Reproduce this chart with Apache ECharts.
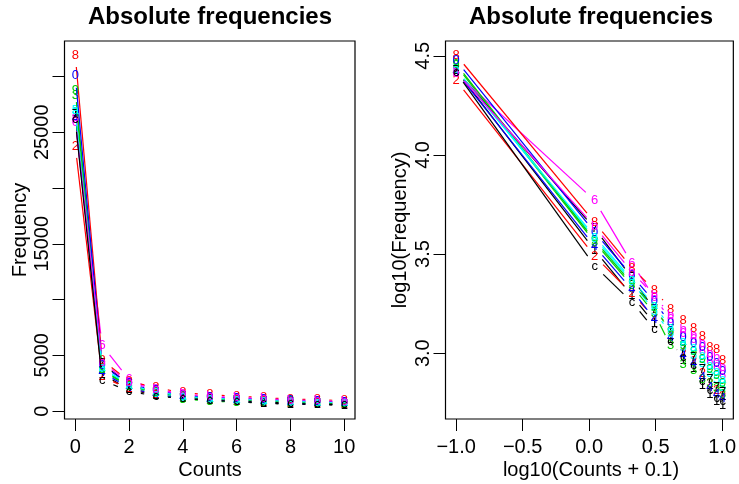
<!DOCTYPE html>
<html>
<head>
<meta charset="utf-8">
<script src="https://cdn.jsdelivr.net/npm/echarts@6/dist/echarts.min.js"></script>
<style>
html,body{margin:0;padding:0;background:#fff;}
#chart{width:739px;height:484px;}
</style>
</head>
<body>
<div id="chart"></div>
<script>
// Counts (x values)
const counts = [0, 1, 2, 3, 4, 5, 6, 7, 8, 9, 10];
// Frequencies per column (plotting character in name)
const s1 = [26810, 3311, 1950, 1413, 1175, 923, 841, 690, 622, 568, 548];
const s2 = [23770, 3090, 1995, 1514, 1230, 1000, 912, 794, 708, 646, 603];
const s3 = [28310, 3631, 2188, 1585, 1089, 881, 815, 741, 708, 661, 617];
const s4 = [26240, 3467, 2089, 1479, 1202, 977, 891, 759, 676, 617, 589];
const s5 = [26980, 3802, 2291, 1622, 1259, 1072, 977, 891, 794, 741, 676];
const s6 = [25880, 5888, 2838, 1905, 1479, 1259, 1175, 1023, 912, 851, 776];
const s7 = [26610, 4266, 2399, 1660, 1318, 1047, 955, 832, 741, 676, 631];
const s8 = [31920, 4571, 2692, 2084, 1667, 1455, 1337, 1213, 1069, 1047, 916];
const s9 = [28770, 3715, 2239, 1698, 1288, 1096, 1023, 933, 832, 776, 708];
const s0 = [30060, 4074, 2455, 1820, 1413, 1202, 1122, 1072, 955, 891, 813];
const sa = [26920, 3890, 2344, 1738, 1349, 1148, 1072, 977, 871, 813, 741];
const sb = [26180, 4365, 2570, 1950, 1549, 1318, 1230, 1122, 1000, 955, 851];
const sc = [26120, 2754, 1807, 1321, 1148, 955, 871, 724, 646, 589, 569];
const seriesList = [s1, s2, s3, s4, s5, s6, s7, s8, s9, s0, sa, sb, sc];
const pchChars = ['1', '2', '3', '4', '5', '6', '7', '8', '9', '0', 'a', 'b', 'c'];
const palette = ['#000000', '#FF0000', '#00CD00', '#0000FF', '#00FFFF', '#FF00FF'];

// Tick values / labels
const leftXTicks = [0, 2, 4, 6, 8, 10];
const leftYTicks = [0, 5000, 10000, 15000, 20000, 25000, 30000];
const leftYLabels = [0, 5000, 15000, 25000];
const rightXTicks = [-1.0, -0.5, 0.0, 0.5, 1.0];
const rightYTicks = [3.0, 3.5, 4.0, 4.5];

const titleText = 'Absolute frequencies';
const leftXName = 'Counts', leftYName = 'Frequency';
const rightXName = 'log10(Counts + 0.1)', rightYName = 'log10(Frequency)';

const logX = counts.map(c => Math.log10(c + 0.1));
const logSeries = seriesList.map(s => s.map(v => Math.log10(v)));

function rRange(arrs) {
  let lo = Infinity, hi = -Infinity;
  arrs.forEach(a => a.forEach(v => { if (v < lo) lo = v; if (v > hi) hi = v; }));
  const d = hi - lo;
  return [lo - 0.04 * d, hi + 0.04 * d];
}
const lxr = rRange([counts]);
const lyr = rRange(seriesList);
const rxr = rRange([logX]);
const ryr = rRange(logSeries);

const GAP = 12;
const FONT = '"Liberation Sans", Arial, Helvetica, sans-serif';

function makeSeries(panel, xs, ys, idx) {
  const color = palette[idx % 6];
  const ch = pchChars[idx];
  return {
    type: 'custom',
    coordinateSystem: 'cartesian2d',
    xAxisIndex: panel, yAxisIndex: panel,
    data: xs.map((x, i) => [x, ys[i]]),
    z: 2 + idx,
    silent: true,
    animation: false,
    clip: false,
    renderItem: function (params, api) {
      const i = params.dataIndex;
      const p0 = api.coord([api.value(0), api.value(1)]);
      const children = [];
      if (i < xs.length - 1) {
        const p1 = api.coord([xs[i + 1], ys[i + 1]]);
        const dx = p1[0] - p0[0], dy = p1[1] - p0[1];
        const len = Math.hypot(dx, dy);
        const f = GAP / len;
        if (f < 0.5) {
          children.push({
            type: 'line',
            shape: { x1: p0[0] + f * dx, y1: p0[1] + f * dy, x2: p1[0] - f * dx, y2: p1[1] - f * dy },
            style: { stroke: color, lineWidth: 1.2 }
          });
        }
      }
      children.push({
        type: 'text', x: p0[0], y: p0[1],
        style: { text: ch, fill: color, font: '13px ' + FONT, align: 'center', verticalAlign: 'middle' }
      });
      return { type: 'group', children: children };
    }
  };
}

const series = [];
seriesList.forEach((s, k) => series.push(makeSeries(0, counts, s, k)));
logSeries.forEach((s, k) => series.push(makeSeries(1, logX, s, k)));

const fmtNum = v => {
  const s = (Math.abs(v) < 1e-9 ? 0 : v);
  return s < 0 ? '\u2212' + Math.abs(s).toFixed(1) : s.toFixed(1);
};

const axisCommon = {
  type: 'value',
  splitLine: { show: false },
  axisLine: { show: false, onZero: false },
  axisTick: { show: true, inside: false, length: 12, lineStyle: { color: '#000', width: 1 } },
  axisLabel: { color: '#000', fontSize: 20, fontFamily: FONT }
};

const option = {
  backgroundColor: '#fff',
  animation: false,
  grid: [
    { left: 64.5, top: 41, width: 290.5, height: 378, show: true, borderColor: '#000', borderWidth: 1.2, backgroundColor: 'transparent' },
    { left: 445.5, top: 41, width: 290.5, height: 378, show: true, borderColor: '#000', borderWidth: 1.2, backgroundColor: 'transparent' }
  ],
  xAxis: [
    Object.assign({}, axisCommon, {
      gridIndex: 0, min: lxr[0], max: lxr[1], position: 'bottom',
      axisTick: Object.assign({}, axisCommon.axisTick, { customValues: leftXTicks }),
      axisLabel: Object.assign({}, axisCommon.axisLabel, { customValues: leftXTicks, margin: 18, formatter: v => String(v) })
    }),
    Object.assign({}, axisCommon, {
      gridIndex: 1, min: rxr[0], max: rxr[1], position: 'bottom',
      axisTick: Object.assign({}, axisCommon.axisTick, { customValues: rightXTicks }),
      axisLabel: Object.assign({}, axisCommon.axisLabel, { customValues: rightXTicks, margin: 18, formatter: fmtNum })
    })
  ],
  yAxis: [
    Object.assign({}, axisCommon, {
      gridIndex: 0, min: lyr[0], max: lyr[1], position: 'left',
      axisTick: Object.assign({}, axisCommon.axisTick, { customValues: leftYTicks }),
      axisLabel: Object.assign({}, axisCommon.axisLabel, { customValues: leftYLabels, rotate: 90, margin: 12, formatter: v => String(v) })
    }),
    Object.assign({}, axisCommon, {
      gridIndex: 1, min: ryr[0], max: ryr[1], position: 'left',
      axisTick: Object.assign({}, axisCommon.axisTick, { customValues: rightYTicks }),
      axisLabel: Object.assign({}, axisCommon.axisLabel, { customValues: rightYTicks, rotate: 90, margin: 12, formatter: fmtNum })
    })
  ],
  graphic: [
    { type: 'text', x: 210, y: 17, style: { text: titleText, font: 'bold 24px ' + FONT, fill: '#000', align: 'center', verticalAlign: 'middle' } },
    { type: 'text', x: 591, y: 17, style: { text: titleText, font: 'bold 24px ' + FONT, fill: '#000', align: 'center', verticalAlign: 'middle' } },
    { type: 'text', x: 210, y: 470, style: { text: leftXName, font: '20px ' + FONT, fill: '#000', align: 'center', verticalAlign: 'middle' } },
    { type: 'text', x: 591, y: 470, style: { text: rightXName, font: '20px ' + FONT, fill: '#000', align: 'center', verticalAlign: 'middle' } },
    { type: 'text', x: 20, y: 230, rotation: Math.PI / 2, style: { text: leftYName, font: '20px ' + FONT, fill: '#000', align: 'center', verticalAlign: 'middle' } },
    { type: 'text', x: 400, y: 230, rotation: Math.PI / 2, style: { text: rightYName, font: '20px ' + FONT, fill: '#000', align: 'center', verticalAlign: 'middle' } }
  ],
  series: series
};

const chart = echarts.init(document.getElementById('chart'), null, { renderer: 'canvas' });
chart.setOption(option);
</script>
</body>
</html>
